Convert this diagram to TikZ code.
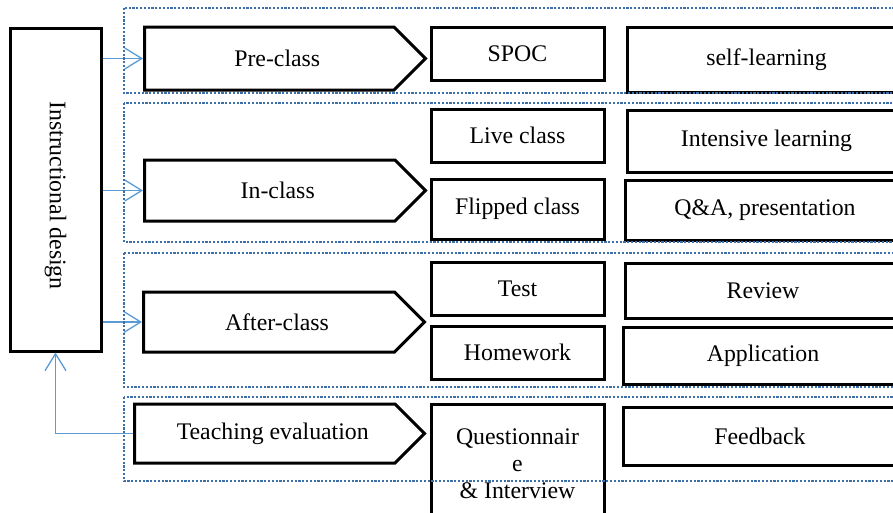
\documentclass[tikz,border=0pt]{standalone}
\usepackage{fontspec}
\setmainfont{Liberation Serif}
\usetikzlibrary{arrows.meta,shapes.symbols}
\definecolor{linkblue}{HTML}{5B9BD5}
\definecolor{groupblue}{HTML}{3D6FA8}

\begin{document}
\begin{tikzpicture}[x=1pt, y=-1pt, every node/.style={font=\fontsize{23.8}{27}\selectfont, inner sep=0pt},
	box/.style={draw, line width=3pt, minimum width=173pt, minimum height=53pt},
	goal/.style={draw, line width=3pt, anchor=west},
	phase/.style={draw, line width=3pt, shape=signal, signal to=east, signal pointer angle=90, anchor=west},
	link/.style={draw=linkblue, line width=1.3pt, -{Straight Barb[length=17pt, width=21pt]}},
	group/.style={draw=groupblue, line width=2.4pt, dash pattern=on 2.2pt off 1.6pt}]
	\useasboundingbox (0,0) rectangle (893,512);
	\clip (0,0) rectangle (893,512);
	\node (D) [draw, line width=3pt, rotate=-90, minimum width=323pt, minimum height=91pt] at (55.5,189.5) {\hspace*{12pt}Instructional design};
	% phases
	\node (P1) [phase, minimum width=281pt, minimum height=63pt] at (143,58.5) {\hspace*{16pt}Pre-class};
	\node (P2) [phase, minimum width=281pt, minimum height=61pt] at (143,190.5) {\hspace*{16pt}In-class};
	\node (P3) [phase, minimum width=281pt, minimum height=60pt] at (142,322) {\hspace*{16pt}After-class};
	\node (P4) [phase, minimum width=290pt, minimum height=59pt] at (133,433.5) {\hspace*{16pt}Teaching evaluation};
	% activities
	\node (A1) [box] at (517.5,53.5) {SPOC};
	\node (A2) [box] at (517.5,135.5) {Live class};
	\node (A3) [box, minimum height=60pt] at (517.5,209) {Flipped class};
	\node (A4) [box] at (517.5,288.5) {Test};
	\node (A5) [box] at (517.5,352.5) {Homework};
	\node (A6) [box, anchor=north, minimum height=118pt, align=center] at (517.5,403) {Questionnair\\e\\\& Interview};
	% aims
	\node (B1) [goal, minimum width=278pt, minimum height=65pt] at (626,59.5) {self-learning};
	\node (B2) [goal, minimum width=278pt, minimum height=62pt] at (626,141) {Intensive learning};
	\node (B3) [goal, minimum width=279pt, minimum height=60pt] at (624,210) {Q\&A, presentation};
	\node (B4) [goal, minimum width=275pt, minimum height=55pt] at (624,290.5) {Review};
	\node (B5) [goal, minimum width=279pt, minimum height=57pt] at (622,355.5) {Application};
	\node (B6) [goal, minimum width=273pt, minimum height=58pt] at (622,436) {Feedback};
	% links
	\draw[link] (D.north |- P1.west) -- (P1.west);
	\draw[link] (D.north |- P2.west) -- (P2.west);
	\draw[link] (D.north |- P3.west) -- (P3.west);
	\draw[link] (P4.west) -| (D.east);
	% groups
	\draw[group] (124,8) rectangle (905,93);
	\draw[group] (124,103) rectangle (905,242);
	\draw[group] (124,253) rectangle (905,387);
	\draw[group] (124,397) rectangle (905,481);
\end{tikzpicture}
\end{document}
